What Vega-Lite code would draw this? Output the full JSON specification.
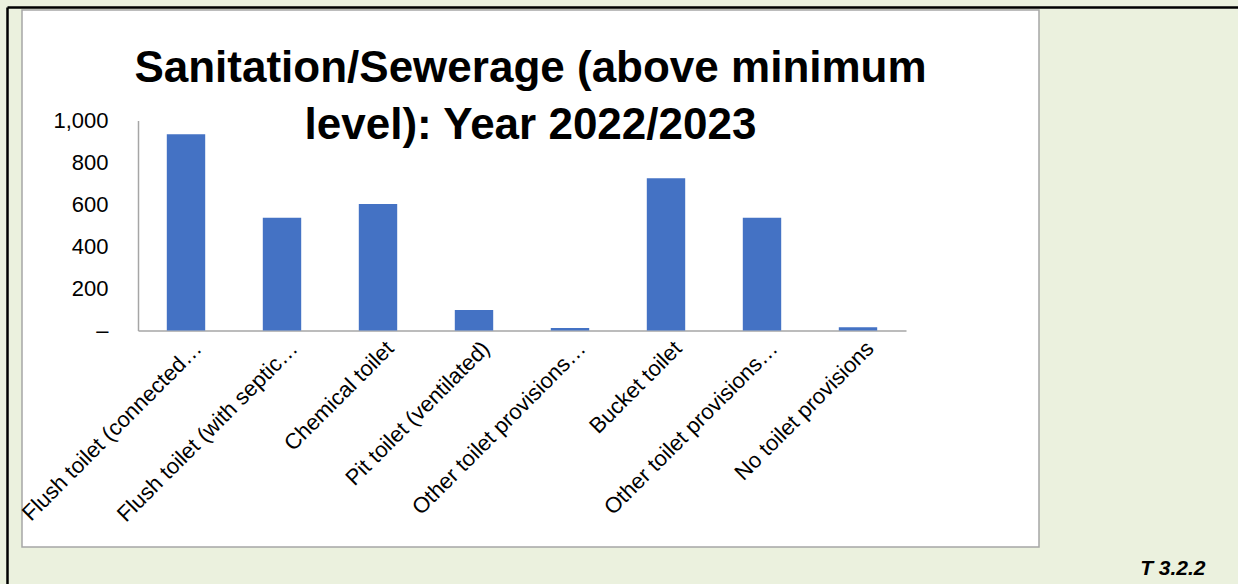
{
  "$schema": "https://vega.github.io/schema/vega-lite/v6.json",
  "autosize": "none",
  "padding": {"left": 22, "top": 10, "right": 199, "bottom": 37},
  "width": 1017,
  "height": 537,
  "background": "#EBF1DE",
  "view": {"fill": "#FFFFFF", "stroke": "#A6A6A6", "strokeWidth": 1.5},
  "title": {
    "text": ["Sanitation/Sewerage (above minimum", "level): Year 2022/2023"],
    "font": "Liberation Sans, Arial",
    "fontSize": 44,
    "fontWeight": "bold",
    "lineHeight": 57,
    "color": "#000000",
    "anchor": "middle",
    "baseline": "bottom",
    "orient": "top",
    "offset": -185
  },
  "data": {
    "values": [
      {"category": "Flush toilet (connected to sewerage)", "households": 934},
      {"category": "Flush toilet (with septic tank)", "households": 537},
      {"category": "Chemical toilet", "households": 602},
      {"category": "Pit toilet (ventilated)", "households": 98},
      {"category": "Other toilet provisions (above min.service level)", "households": 12},
      {"category": "Bucket toilet", "households": 725},
      {"category": "Other toilet provisions (below min.service level)", "households": 537},
      {"category": "No toilet provisions", "households": 15}
    ]
  },
  "layer": [
    {
      "mark": {"type": "bar", "color": "#4472C4"},
      "encoding": {
        "x": {
          "field": "category",
          "type": "nominal",
          "sort": null,
          "scale": {"range": [116, 884], "paddingInner": 0.6, "paddingOuter": 0.3},
          "axis": {
            "orient": "bottom",
            "offset": -216.5,
            "domainColor": "#A6A6A6",
            "domainWidth": 1.5,
            "ticks": false,
            "labelAngle": -45,
            "labelAlign": "right",
            "labelBaseline": "top",
            "labelPadding": 7,
            "labelOffset": 5,
            "labelFont": "Liberation Sans, Arial",
            "labelFontSize": 22,
            "labelColor": "#000000",
            "labelLimit": 400,
            "labelExpr": "datum.value == 'Flush toilet (connected to sewerage)' ? 'Flush toilet (connected…' : datum.value == 'Flush toilet (with septic tank)' ? 'Flush toilet (with septic…' : indexof(datum.value, 'Other toilet provisions') == 0 ? 'Other toilet provisions…' : datum.label",
            "title": "T 3.2.2",
            "titleFont": "Liberation Sans, Arial",
            "titleFontSize": 21,
            "titleFontWeight": "bold",
            "titleFontStyle": "italic",
            "titleColor": "#000000",
            "titleAlign": "right",
            "titleBaseline": "alphabetic",
            "titleAnchor": null,
            "titleX": 1183,
            "titleY": 244
          }
        },
        "y": {
          "field": "households",
          "type": "quantitative",
          "scale": {"domain": [0, 1000], "range": [320.5, 110.5], "nice": false},
          "axis": {
            "orient": "left",
            "offset": -116,
            "values": [0, 200, 400, 600, 800, 1000],
            "domainColor": "#A6A6A6",
            "domainWidth": 1.5,
            "ticks": false,
            "grid": false,
            "labelPadding": 30,
            "labelFont": "Liberation Sans, Arial",
            "labelFontSize": 22,
            "labelColor": "#000000",
            "labelExpr": "datum.value == 0 ? '– ' : format(datum.value, ',')",
            "title": null
          }
        }
      }
    },
    {
      "mark": {"type": "point", "opacity": 0},
      "encoding": {
        "x": {
          "datum": 0,
          "type": "quantitative",
          "scale": {"domain": [0, 1], "range": [-15, 1216], "nice": false, "zero": false},
          "axis": {"orient": "top", "offset": 3, "domainColor": "#000000", "domainWidth": 2.5, "labels": false, "ticks": false, "grid": false, "title": null}
        },
        "y": {
          "datum": 0,
          "type": "quantitative",
          "scale": {"domain": [0, 1], "range": [574, -3], "nice": false, "zero": false},
          "axis": {"orient": "left", "offset": 15, "domainColor": "#000000", "domainWidth": 2.5, "labels": false, "ticks": false, "grid": false, "title": null}
        }
      }
    }
  ],
  "resolve": {"scale": {"x": "independent", "y": "independent"}}
}
